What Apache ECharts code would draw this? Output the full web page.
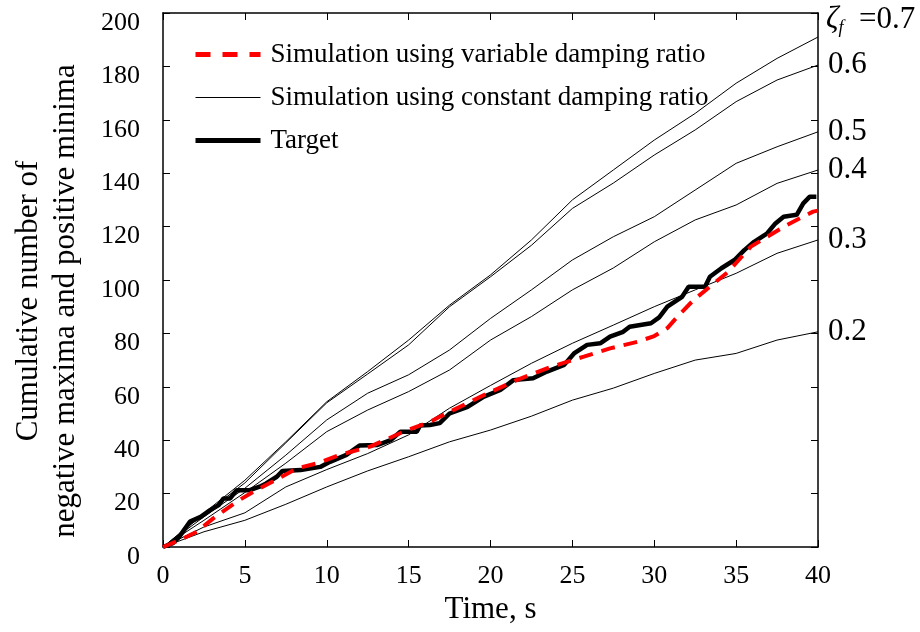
<!DOCTYPE html>
<html>
<head>
<meta charset="utf-8">
<script src="https://cdn.jsdelivr.net/npm/echarts@6/dist/echarts.min.js"></script>
<style>
html,body{margin:0;padding:0;background:#fff;}
#chart{width:920px;height:632px;}
</style>
</head>
<body>
<div id="chart"></div>
<script>
// ---- data ----
const timeGrid = [0, 2.5, 5, 7.5, 10, 12.5, 15, 17.5, 20, 22.5, 25, 27.5, 30, 32.5, 35, 37.5, 40];
const zeta07 = [0, 12.7, 25, 39.4, 54.4, 65.7, 77.5, 90.6, 101.9, 115, 130, 141.2, 152.4, 162.4, 173.7, 183, 191];
const zeta06 = [0, 12.3, 24, 39, 54, 64.8, 75.7, 90, 101.2, 113, 126.8, 136.3, 146.8, 156.2, 166.8, 174.9, 180.5];
const zeta05 = [0, 11.3, 22, 34.4, 47.6, 57.6, 64.5, 73.8, 85.6, 96.3, 107.5, 116.2, 123.7, 133.7, 143.7, 149.9, 155.5];
const zeta04 = [0, 10, 20.4, 31.4, 43.2, 51.3, 58.2, 66.3, 77.5, 86.3, 96.3, 104.5, 114.3, 122.5, 128.1, 136.2, 141.2];
const zeta03 = [0, 7.5, 12.8, 22.5, 29, 35, 42, 52, 60.5, 68.8, 76.3, 83.1, 90, 96.3, 102.5, 110, 115];
const zeta02 = [0, 5.7, 10, 16, 22.5, 28.5, 33.8, 39.4, 43.8, 49, 55, 59.5, 65, 70, 72.5, 77.5, 80.6];
const zetaLabels = ['0.7', '0.6', '0.5', '0.4', '0.3', '0.2'];

const targetT = [0, 0.6, 1.0, 1.65, 2.3, 2.9, 3.4, 3.7, 4.1, 4.5, 5.3, 5.9, 6.3, 6.95, 7.3, 8.4, 9.6, 10.2, 11.2, 12.0, 13.1, 13.9, 14.5, 15.5, 15.7, 16.3, 16.9, 17.5, 18.6, 19.6, 20.6, 21.4, 22.6, 23.45, 24.5, 25.1, 25.9, 26.7, 27.3, 28.1, 28.5, 29.8, 30.3, 30.8, 31.7, 32.1, 33.1, 33.4, 34.1, 34.9, 35.5, 36.1, 36.9, 37.4, 37.9, 38.7, 39.1, 39.5, 39.9];
const targetV = [0, 1.4, 3.9, 9.5, 11.3, 13.9, 15.7, 18.2, 18.2, 21.3, 21.3, 22.6, 23.8, 26.3, 28.5, 28.8, 30, 31.9, 34.5, 38, 38.2, 40, 43.2, 43.2, 45.5, 45.7, 46.4, 50, 52.5, 56.3, 58.8, 62.5, 63.2, 65.7, 68.2, 72.5, 75.7, 76.3, 78.8, 80.6, 82.5, 83.8, 86, 90, 93.7, 97.5, 97.5, 101.2, 104.4, 107.5, 111.2, 114.3, 117.5, 121.2, 123.7, 124.4, 128.7, 131.2, 131.2];

const varT = [0, 1.04, 2.06, 3.07, 4.5, 5.7, 6.7, 8.2, 9.4, 10.8, 12.65, 14.7, 16.3, 16.9, 19.6, 21.6, 23.7, 25.7, 27.3, 29.0, 30.0, 30.8, 31.4, 32.4, 33.4, 34.5, 35.9, 36.9, 38.1, 39.7, 40];
const varV = [0, 2.6, 5.7, 10.7, 17, 21.3, 24.5, 29.5, 31.3, 34.5, 37.6, 43.2, 46.9, 48.8, 56.9, 62.5, 67.5, 71.3, 74.4, 76.9, 79, 82, 86.2, 92.5, 97.5, 103, 112.5, 116.2, 120.6, 125.6, 126];

const xTicks = { min: 0, max: 40, interval: 5 };
const yTicks = { min: 0, max: 200, interval: 20 };

// ---- chart ----
const FONT = 'Liberation Serif';
const zip = (xs, ys) => xs.map((x, i) => [x, ys[i]]);
const constName = 'Simulation using constant damping ratio';
const varName = 'Simulation using variable damping ratio';
const targetName = 'Target';

const varLine = { color: '#ff0000', width: 4, type: [14, 9] };
const constLine = { color: '#000', width: 1 };
const targetLine = { color: '#000', width: 4.5 };

const constSets = [zeta07, zeta06, zeta05, zeta04, zeta03, zeta02];
const constSeries = constSets.map((arr, i) => {
  const isTop = i === 0;
  return {
    name: constName,
    type: 'line',
    data: zip(timeGrid, arr),
    symbol: 'none',
    silent: true,
    itemStyle: { color: '#000' },
    lineStyle: constLine,
    z: 2,
    endLabel: {
      show: true,
      distance: isTop ? 8 : 10,
      offset: isTop ? [0, -17] : [0, 0],
      formatter: isTop ? '{z|ζ}{s|f}{n|  =0.7}' : zetaLabels[i],
      color: '#000',
      fontFamily: FONT,
      fontSize: 31,
      rich: {
        z: { fontFamily: FONT, fontSize: 31, fontStyle: 'italic', color: '#000', lineHeight: 34, verticalAlign: 'middle' },
        s: { fontFamily: FONT, fontSize: 18, fontStyle: 'italic', color: '#000', lineHeight: 18, verticalAlign: 'bottom' },
        n: { fontFamily: FONT, fontSize: 31, color: '#000', lineHeight: 34, verticalAlign: 'middle' }
      }
    }
  };
});

const tickIn = { show: true, inside: true, length: 7, lineStyle: { color: '#000', width: 1 } };
// left axis: outward direction flipped with a negative length so ticks point into the plot
const tickLeft = { show: true, inside: false, length: -7, lineStyle: { color: '#000', width: 1 } };
const lineStyleAxis = { show: true, onZero: false, lineStyle: { color: '#000', width: 1.5 } };

const option = {
  animation: false,
  backgroundColor: '#fff',
  textStyle: { fontFamily: FONT, color: '#000' },
  grid: { left: 163, right: 102, top: 13, bottom: 85, containLabel: false },
  legend: {
    data: [
      { name: varName, itemStyle: { opacity: 0 }, lineStyle: { color: '#ff0000', width: 5, type: [15, 12] } },
      { name: constName, itemStyle: { opacity: 0 }, lineStyle: { color: '#000', width: 1 } },
      { name: targetName, itemStyle: { opacity: 0 }, lineStyle: { color: '#000', width: 5 } }
    ],
    orient: 'vertical',
    left: 188,
    top: 36,
    itemWidth: 65,
    itemHeight: 14,
    itemGap: 16,
    textStyle: { fontFamily: FONT, fontSize: 27, lineHeight: 27, color: '#000', padding: [0, 0, 0, 5] },
    selectedMode: false
  },
  graphic: [
    {
      type: 'text',
      x: 47,
      y: 301,
      rotation: Math.PI / 2,
      silent: true,
      style: {
        text: 'Cumulative number of\nnegative maxima and positive minima',
        font: '31px "Liberation Serif"',
        fill: '#000',
        align: 'center',
        verticalAlign: 'middle',
        lineHeight: 37
      }
    }
  ],
  xAxis: [
    {
      type: 'value', min: xTicks.min, max: xTicks.max, interval: xTicks.interval,
      position: 'bottom',
      name: 'Time, s', nameLocation: 'middle', nameGap: 41,
      nameTextStyle: { fontFamily: FONT, fontSize: 31, color: '#000' },
      axisLine: lineStyleAxis,
      axisTick: tickIn,
      axisLabel: { fontFamily: FONT, fontSize: 26, color: '#000', margin: 16 },
      splitLine: { show: false }
    },
    {
      type: 'value', min: xTicks.min, max: xTicks.max, interval: xTicks.interval,
      position: 'top',
      axisLine: lineStyleAxis,
      axisTick: tickIn,
      axisLabel: { show: false },
      splitLine: { show: false }
    }
  ],
  yAxis: [
    {
      type: 'value', min: yTicks.min, max: yTicks.max, interval: yTicks.interval,
      position: 'left',
      axisLine: lineStyleAxis,
      axisTick: tickLeft,
      axisLabel: { fontFamily: FONT, fontSize: 26, color: '#000', margin: 23, verticalAlign: 'top', lineHeight: 20 },
      splitLine: { show: false }
    },
    {
      type: 'value', min: yTicks.min, max: yTicks.max, interval: yTicks.interval,
      position: 'right',
      axisLine: lineStyleAxis,
      axisTick: tickIn,
      axisLabel: { show: false },
      splitLine: { show: false }
    }
  ],
  series: [
    ...constSeries,
    {
      name: targetName,
      type: 'line',
      data: zip(targetT, targetV),
      symbol: 'none',
      silent: true,
      itemStyle: { color: '#000' },
      lineStyle: targetLine,
      z: 3
    },
    {
      name: varName,
      type: 'line',
      data: zip(varT, varV),
      symbol: 'none',
      silent: true,
      itemStyle: { color: '#ff0000' },
      lineStyle: varLine,
      z: 4
    }
  ]
};

const chart = echarts.init(document.getElementById('chart'), null, { renderer: 'canvas' });
chart.setOption(option);
</script>
</body>
</html>
